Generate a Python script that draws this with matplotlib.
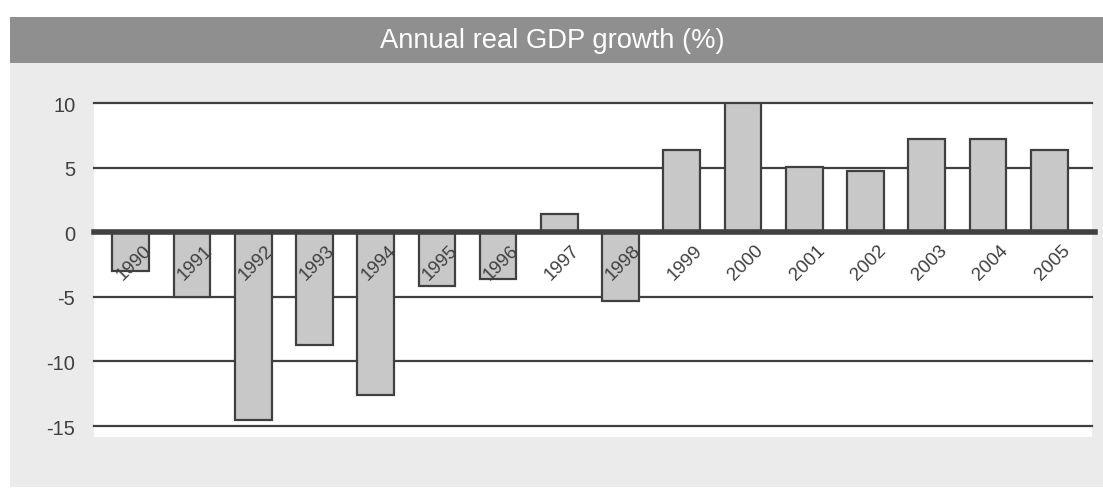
import matplotlib.pyplot as plt
from matplotlib.patches import Rectangle

plt.rcParams['font.family'] = ['Liberation Sans', 'DejaVu Sans']

# data
years = ['1990', '1991', '1992', '1993', '1994', '1995', '1996', '1997',
         '1998', '1999', '2000', '2001', '2002', '2003', '2004', '2005']
growth = [-3.0, -5.0, -14.5, -8.7, -12.6, -4.2, -3.6, 1.4,
          -5.3, 6.35, 10.0, 5.05, 4.7, 7.2, 7.2, 6.35]
yticks = [10, 5, 0, -5, -10, -15]

W, H = 1103, 489
fig = plt.figure(figsize=(W / 100, H / 100), dpi=100)
fig.patch.set_facecolor('white')

# background panels
fig.patches.append(Rectangle((10 / W, 1 - 488 / H), 1 - 10 / W, 424 / H,
                             transform=fig.transFigure, facecolor='#ebebeb',
                             edgecolor='none', zorder=-2))
fig.patches.append(Rectangle((10 / W, 1 - 64 / H), 1 - 10 / W, 46 / H,
                             transform=fig.transFigure, facecolor='#8f8f8f',
                             edgecolor='none', zorder=-2))
fig.text(552 / W, 1 - 41 / H, 'Annual real GDP growth (%)', color='white',
         fontsize=19.7, ha='center', va='center')

ax = fig.add_axes([94 / W, 1 - 438 / H, 998 / W, 334 / H])
ax.set_facecolor('white')
for s in ax.spines.values():
    s.set_visible(False)

x = list(range(len(years)))
ax.bar(x, growth, width=0.6, color='#c8c8c8', edgecolor='#404040',
       linewidth=1.6, zorder=2)

for t in yticks:
    if t == 0:
        ax.axhline(0, xmax=1.003, color='#404040', linewidth=4, zorder=3,
                   clip_on=False)
    else:
        ax.axhline(t, color='#404040', linewidth=1.6, zorder=1, clip_on=False)

for xi, lab in zip(x, years):
    ax.text(xi + 0.05, -2.3, lab, rotation=45, ha='center', va='center',
            fontsize=13.5, color='#404040', zorder=4)

ax.set_xlim(-0.6, 15.7)
ax.set_ylim(-15.85, 10)
ax.set_xticks([])
ax.set_yticks(yticks)
ax.set_yticklabels([str(t) for t in yticks], fontsize=14.5, color='#404040')
ax.tick_params(axis='y', length=0, pad=13.5)

fig.savefig('out.png', dpi=100)
